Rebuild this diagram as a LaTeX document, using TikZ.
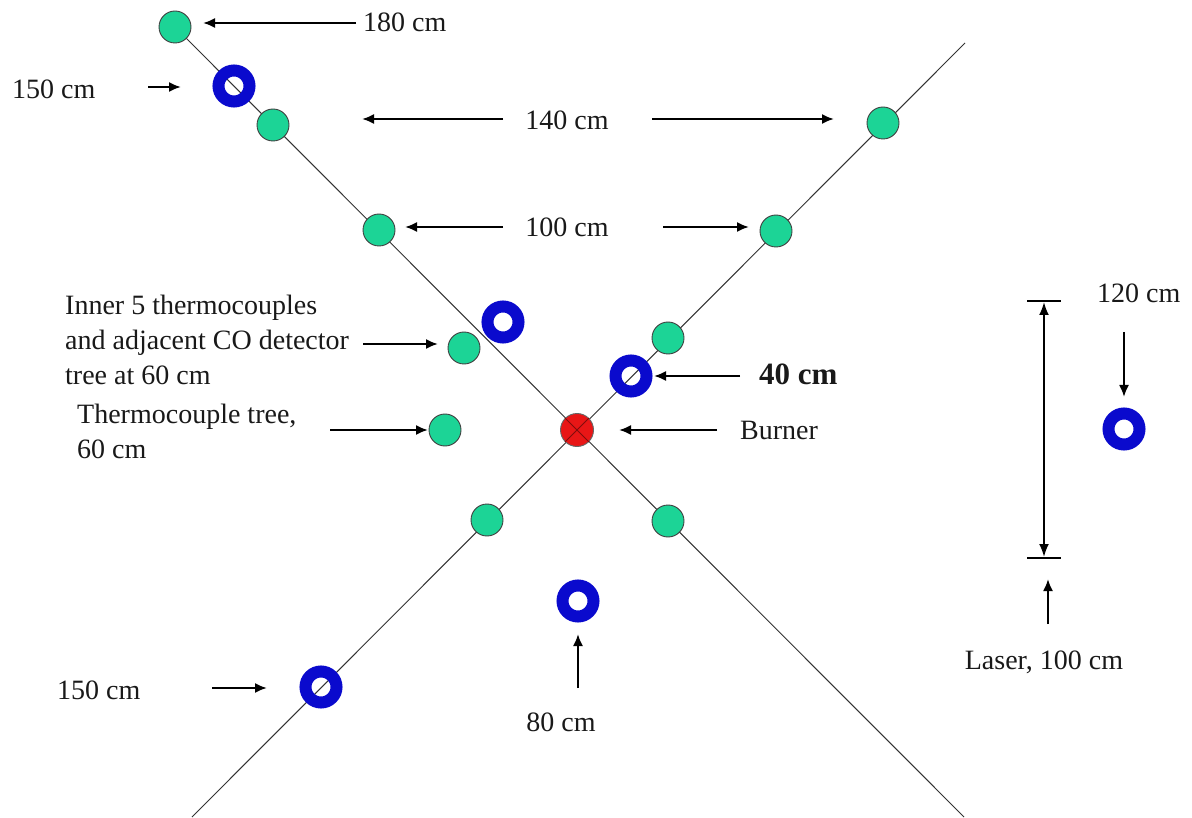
\documentclass[tikz,border=0pt]{standalone}
\usepackage{fontspec}
\setmainfont{Liberation Serif}
\usetikzlibrary{arrows.meta}
\definecolor{tcgreen}{RGB}{28,212,150}
\definecolor{ringblue}{RGB}{10,10,205}
\definecolor{burnred}{RGB}{232,22,22}
\begin{document}
\begin{tikzpicture}[x=1pt,y=-1pt,
  tc/.style={circle,fill=tcgreen,draw=black!75,line width=0.9pt,minimum size=32pt,inner sep=0pt},
  ring/.style={circle,draw=ringblue,line width=12pt,minimum size=31pt,inner sep=0pt},
  burner/.style={circle,fill=burnred,draw=black!60,line width=0.9pt,minimum size=33pt,inner sep=0pt},
  axis/.style={draw=black!80,line width=1pt},
  arr/.style={-{Latex[length=12pt,width=10pt]},line width=2pt},
  dimarr/.style={{Latex[length=13pt,width=10pt]}-{Latex[length=13pt,width=10pt]},line width=2pt},
  tick/.style={line width=1.5pt},
  lbl/.style={font=\fontsize{28}{35}\selectfont,inner sep=0pt,text=black!90},
  blbl/.style={font=\fontsize{31}{36}\selectfont\bfseries,inner sep=0pt,text=black!90}]
\useasboundingbox[fill=white] (0,0) rectangle (1192,818);
% axes
\coordinate (A1) at (175,27);
\coordinate (A2) at (964,817);
\coordinate (B1) at (192,817);
\coordinate (B2) at (965,43);
\draw[axis] (A1) -- (A2);
\draw[axis] (B1) -- (B2);
% green thermocouples
\node[tc] (t180) at (175,27) {};
\node[tc] (t140l) at (273,125) {};
\node[tc] (t100l) at (379,230) {};
\node[tc] (tin) at (464,348) {};
\node[tc] (ttree) at (445,430) {};
\node[tc] (t140r) at (883,123) {};
\node[tc] (t100r) at (776,231) {};
\node[tc] (t60r) at (668,338) {};
\node[tc] (t60bl) at (487,520) {};
\node[tc] (t60br) at (668,521) {};
% blue CO detectors
\node[ring] (r150t) at (234,86) {};
\node[ring] (rin) at (503,322) {};
\node[ring] (r40) at (631,376) {};
\node[ring] (r150b) at (321,687) {};
\node[ring] (r80) at (578,601) {};
\node[ring] (r120) at (1124,429) {};
% burner
\node[burner] (burn) at (577,430) {};
\draw[draw=black!45!burnred,line width=1pt] (burn.north east) -- (burn.south west);
\draw[draw=black!45!burnred,line width=1pt] (burn.north west) -- (burn.south east);
% labels
\node[lbl,anchor=west] (l180) at (363,22) {180 cm};
\node[lbl,anchor=west] (l150t) at (12,89) {150 cm};
\node[lbl] (l140) at (567,120) {140 cm};
\node[lbl] (l100) at (567,227) {100 cm};
\node[lbl,anchor=west,align=left] (linner) at (65,340) {Inner 5 thermocouples\\and adjacent CO detector\\tree at 60 cm};
\node[lbl,anchor=west,align=left] (ltree) at (77,431) {Thermocouple tree,\\60 cm};
\node[blbl,anchor=west] (l40) at (759,374) {40 cm};
\node[lbl,anchor=west] (lburn) at (740,430) {Burner};
\node[lbl,anchor=west] (l120) at (1097,293) {120 cm};
\node[lbl] (llaser) at (1044,662) {Laser, 100 cm};
\node[lbl] (l80) at (561,722) {80 cm};
\node[lbl,anchor=west] (l150b) at (57,690) {150 cm};
% arrow end coordinates
\coordinate (a180s) at (356,23);  \coordinate (a180e) at (203,23);
\coordinate (a150ts) at (148,87); \coordinate (a150te) at (181,87);
\coordinate (a140ls) at (503,119); \coordinate (a140le) at (362,119);
\coordinate (a140rs) at (652,119); \coordinate (a140re) at (834,119);
\coordinate (a100ls) at (503,227); \coordinate (a100le) at (405,227);
\coordinate (a100rs) at (663,227); \coordinate (a100re) at (749,227);
\coordinate (ainns) at (363,344); \coordinate (ainne) at (438,344);
\coordinate (atrees) at (330,430); \coordinate (atreee) at (428,430);
\coordinate (a40s) at (740,376); \coordinate (a40e) at (654,376);
\coordinate (aburns) at (717,430); \coordinate (aburne) at (619,430);
\coordinate (a120s) at (1124,332); \coordinate (a120e) at (1124,397);
\coordinate (a80s) at (578,688); \coordinate (a80e) at (578,634);
\coordinate (a150bs) at (212,688); \coordinate (a150be) at (267,688);
\coordinate (alasers) at (1048,624); \coordinate (alasere) at (1048,579);
\coordinate (dtop) at (1044,301); \coordinate (dbot) at (1044,558);
\coordinate (dtopl) at (1027,301); \coordinate (dtopr) at (1061,301);
\coordinate (dbotl) at (1027,558); \coordinate (dbotr) at (1061,558);
% arrows
\draw[arr] (a180s) -- (a180e);
\draw[arr] (a150ts) -- (a150te);
\draw[arr] (a140ls) -- (a140le);
\draw[arr] (a140rs) -- (a140re);
\draw[arr] (a100ls) -- (a100le);
\draw[arr] (a100rs) -- (a100re);
\draw[arr] (ainns) -- (ainne);
\draw[arr] (atrees) -- (atreee);
\draw[arr] (a40s) -- (a40e);
\draw[arr] (aburns) -- (aburne);
\draw[arr] (a120s) -- (a120e);
\draw[arr] (a80s) -- (a80e);
\draw[arr] (a150bs) -- (a150be);
\draw[arr] (alasers) -- (alasere);
% laser dimension
\draw[tick] (dtopl) -- (dtopr);
\draw[tick] (dbotl) -- (dbotr);
\draw[dimarr,shorten <=1pt,shorten >=1pt] (dtop) -- (dbot);
\end{tikzpicture}
\end{document}
